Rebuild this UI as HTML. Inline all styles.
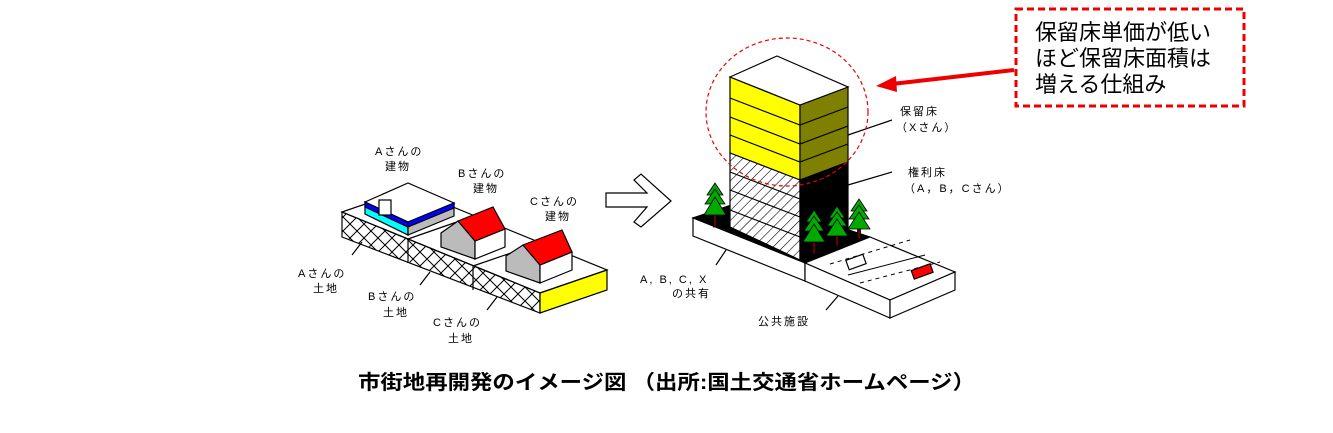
<!DOCTYPE html>
<html><head><meta charset="utf-8"><style>
html,body{margin:0;padding:0;background:#fff}
svg{display:block}
.s{font-family:"Liberation Sans","Noto Sans CJK JP",sans-serif;font-size:11px;fill:#000;letter-spacing:2px}
</style></head><body>
<svg width="1333" height="433" viewBox="0 0 1333 433" xmlns="http://www.w3.org/2000/svg">
<defs>
<pattern id="x" width="14" height="14" patternUnits="userSpaceOnUse"><path d="M0 0L14 14M14 0L0 14" stroke="#000" stroke-width="1"/></pattern>
<pattern id="h" width="7" height="7" patternUnits="userSpaceOnUse" patternTransform="rotate(45)"><rect width="7" height="7" fill="#fff"/><line x1="0" y1="0" x2="0" y2="7" stroke="#000" stroke-width="1.2"/></pattern>
</defs>
<g stroke="#000" stroke-width="1.2" fill="#fff">
<polygon points="342,212 409,189 607,270 540,293"/>
<polygon points="342,212 540,293 540,313 342,237" fill="url(#x)"/>
<polygon points="540,293 607,270 607,290 540,313" fill="#ff0"/>
<line x1="408" y1="239" x2="408" y2="263"/><line x1="473" y1="266" x2="473" y2="290"/>
<line x1="408" y1="239" x2="474" y2="216"/><line x1="473" y1="266" x2="540" y2="243"/>
<polygon points="365,202 408,183 454,203 408,223" fill="#fff"/>
<polygon points="365,202 408,222 408,235 365,214" fill="#0ff"/>
<polygon points="365,202 408,222 408,227 365,207" fill="#00f"/>
<polygon points="408,222 454,203 454,216 408,235" fill="#bbb"/>
<polygon points="408,222 454,203 454,208 408,227" fill="#00f"/>
<rect x="379" y="200" width="12" height="15" fill="#fff"/>
<polygon points="441,233 458,221 475,241 475,259 441,247" fill="#bbb"/>
<polygon points="475,241 505,229 505,247 475,259" fill="#fff"/>
<polygon points="458,221 493,207 505,229 475,241" fill="#f00"/>
<polygon points="506,256 523,245 540,265 540,283 506,271" fill="#bbb"/>
<polygon points="540,265 572,252 572,270 540,283" fill="#fff"/>
<polygon points="523,245 562,230 572,252 540,265" fill="#f00"/>
<line x1="352" y1="255" x2="362" y2="242"/><line x1="420" y1="285" x2="430" y2="272"/><line x1="487" y1="310" x2="497" y2="297"/>
<polygon points="606,193 647,193 634,180 641,174 671,201 641,227 634,222 647,207 606,207"/>
<polygon points="693,218 752,198 870,237 805,263" fill="#000"/>
<polygon points="693,218 805,263 805,281 693,236"/>
<polygon points="805,263 870,237 955,272 890,300"/>
<polygon points="805,263 890,300 890,318 805,281"/>
<polygon points="890,300 955,272 955,290 890,318"/>
<line x1="830" y1="264" x2="910" y2="240" stroke-dasharray="4,4" stroke-width="1"/>
<line x1="848" y1="275" x2="925" y2="255" stroke-width="1"/>
<line x1="860" y1="283" x2="940" y2="262" stroke-dasharray="4,4" stroke-width="1"/>
<rect x="847" y="257" width="18" height="10" fill="#fff" transform="rotate(-20 856 262)"/>
<rect x="912" y="267" width="20" height="9" fill="#f00" transform="rotate(-20 922 271)"/>
<polygon points="730,77 800,105 800,180 730,153" fill="#ff0"/>
<polygon points="730,153 800,180 800,260 730,227" fill="url(#h)"/>
<polygon points="800,105 848,87 848,162 800,180" fill="#808000"/>
<polygon points="800,180 848,162 848,232 800,260" fill="#000"/>
<polygon points="730,77 777,56 848,87 800,105"/>
<g fill="none">
<polyline points="730,98 800,125 848,107"/><polyline points="730,117 800,144 848,126"/><polyline points="730,135 800,162 848,144"/>
<polyline points="730,172 800,199"/><polyline points="730,190 800,217"/><polyline points="730,210 800,237"/>
</g>
<line x1="848" y1="135" x2="892" y2="120"/><line x1="848" y1="185" x2="892" y2="172"/>
<line x1="716" y1="265" x2="726" y2="250"/><line x1="826" y1="310" x2="838" y2="296"/>
</g>
<g fill="#0a0" stroke="#000" stroke-width="0.8">
<g transform="translate(715,183)"><rect x="-1.5" y="30" width="3" height="14" fill="#600"/><polygon points="0,0 -8,12 8,12"/><polygon points="0,6 -10,21 10,21"/><polygon points="0,14 -11,32 11,32"/></g>
<g transform="translate(814,210)"><rect x="-1.5" y="30" width="3" height="14" fill="#600"/><polygon points="0,0 -8,12 8,12"/><polygon points="0,6 -10,21 10,21"/><polygon points="0,14 -11,32 11,32"/></g>
<g transform="translate(837,206)"><rect x="-1.5" y="28" width="3" height="12" fill="#600"/><polygon points="0,0 -8,12 8,12"/><polygon points="0,6 -10,20 10,20"/><polygon points="0,13 -11,30 11,30"/></g>
<g transform="translate(859,199)"><rect x="-1.5" y="28" width="3" height="12" fill="#600"/><polygon points="0,0 -8,12 8,12"/><polygon points="0,6 -10,20 10,20"/><polygon points="0,13 -11,30 11,30"/></g>
</g>
<ellipse cx="787" cy="112" rx="81" ry="74" fill="none" stroke="#e00" stroke-width="1.2" stroke-dasharray="4,3"/>
<rect x="1016" y="9" width="228" height="97" fill="none" stroke="#e00" stroke-width="3" stroke-dasharray="7,4"/>
<line x1="1014" y1="70" x2="892" y2="84" stroke="#e00" stroke-width="4"/>
<polygon points="876,86 896,76 897,92" fill="#e00"/>
<g font-family="'Liberation Sans','Noto Sans CJK JP',sans-serif" font-size="22" fill="#000">
<text x="1035" y="40">保留床単価が低い</text>
<text x="1035" y="66">ほど保留床面積は</text>
<text x="1035" y="92">増える仕組み</text>
</g>
<text class="s" x="375" y="155">Aさんの</text><text class="s" x="385" y="170">建物</text>
<text class="s" x="458" y="177">Bさんの</text><text class="s" x="473" y="192">建物</text>
<text class="s" x="530" y="205">Cさんの</text><text class="s" x="545" y="220">建物</text>
<text class="s" x="298" y="277">Aさんの</text><text class="s" x="313" y="292">土地</text>
<text class="s" x="368" y="300">Bさんの</text><text class="s" x="383" y="316">土地</text>
<text class="s" x="433" y="326">Cさんの</text><text class="s" x="448" y="342">土地</text>
<text class="s" x="900" y="115">保留床</text><text class="s" x="896" y="131">（Xさん）</text>
<text class="s" x="908" y="176">権利床</text><text class="s" x="904" y="192">（A，B，Cさん）</text>
<text class="s" x="640" y="283" letter-spacing="5">A, B, C, X</text><text class="s" x="672" y="297">の共有</text>
<text class="s" x="758" y="325">公共施設</text>
<text x="358" y="389" font-family="'Liberation Sans','Noto Sans CJK JP',sans-serif" font-size="20" font-weight="bold" textLength="617" lengthAdjust="spacingAndGlyphs">市街地再開発のイメージ図 （出所:国土交通省ホームページ）</text>
</svg>
</body></html>
